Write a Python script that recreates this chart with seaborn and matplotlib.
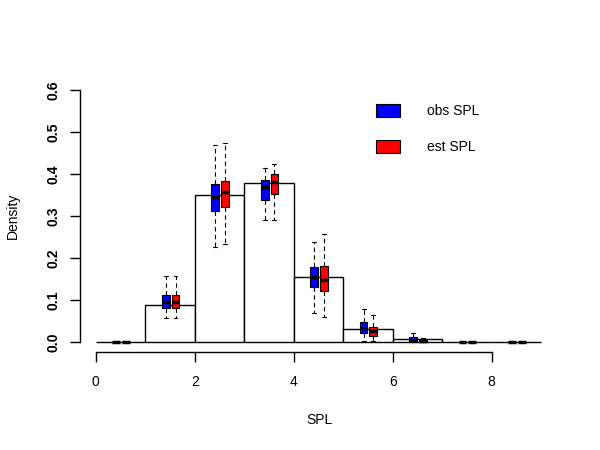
import numpy as np
import matplotlib
matplotlib.use("Agg")
import matplotlib.pyplot as plt
from matplotlib.patches import Patch
import seaborn as sns

# histogram of SPL (density per unit-width bin)
bin_edges = [0, 1, 2, 3, 4, 5, 6, 7, 8, 9]
bin_density = [0.0, 0.089, 0.349, 0.379, 0.155, 0.031, 0.006, 0.001, 0.0]

# box summaries per bin: whisker low, q1, median, q3, whisker high
obs_low = [0.0, 0.056, 0.225, 0.290, 0.070, 0.003, 0.0, 0.0, 0.0]
obs_q1 = [0.0, 0.080, 0.313, 0.338, 0.130, 0.021, 0.001, 0.0, 0.0]
obs_med = [0.0, 0.094, 0.346, 0.368, 0.154, 0.033, 0.005, 0.0, 0.0]
obs_q3 = [0.001, 0.112, 0.376, 0.386, 0.178, 0.048, 0.011, 0.001, 0.001]
obs_high = [0.001, 0.156, 0.469, 0.415, 0.239, 0.078, 0.021, 0.001, 0.001]

est_low = [0.0, 0.056, 0.233, 0.290, 0.059, 0.003, 0.0, 0.0, 0.0]
est_q1 = [0.0, 0.080, 0.322, 0.352, 0.121, 0.015, 0.0, 0.0, 0.0]
est_med = [0.0, 0.094, 0.356, 0.382, 0.148, 0.025, 0.003, 0.0, 0.0]
est_q3 = [0.001, 0.112, 0.384, 0.399, 0.181, 0.035, 0.007, 0.001, 0.001]
est_high = [0.001, 0.156, 0.475, 0.424, 0.257, 0.064, 0.010, 0.001, 0.001]

sns.set_style("ticks")
plt.rcParams["font.family"] = ["Liberation Sans", "DejaVu Sans"]
plt.rcParams["text.color"] = "black"
plt.rcParams["axes.labelcolor"] = "black"
plt.rcParams["xtick.color"] = "black"
plt.rcParams["ytick.color"] = "black"

fig = plt.figure(figsize=(6, 4.5), dpi=100)
ax = fig.add_axes([80 / 600, 1 - 352 / 450, 478 / 600, 272 / 450])

mids = [(a + b) / 2 for a, b in zip(bin_edges[:-1], bin_edges[1:])]
sns.histplot(x=mids, weights=bin_density, bins=bin_edges, stat="count",
             color="white", edgecolor="black", linewidth=1, alpha=1, ax=ax)


def make_stats(low, q1, med, q3, high):
    return [dict(whislo=a, q1=b, med=c, q3=d, whishi=e, fliers=[])
            for a, b, c, d, e in zip(low, q1, med, q3, high)]


for stats, col, off in [(make_stats(obs_low, obs_q1, obs_med, obs_q3, obs_high), "blue", -0.09),
                        (make_stats(est_low, est_q1, est_med, est_q3, est_high), "red", 0.11)]:
    ax.bxp(stats, positions=[m + off for m in mids], widths=0.16, capwidths=0.08,
           patch_artist=True, showfliers=False, manage_ticks=False,
           boxprops=dict(facecolor=col, edgecolor="black", linewidth=0.8),
           medianprops=dict(color="black", linewidth=2.5, solid_capstyle="butt"),
           whiskerprops=dict(color="black", linewidth=0.8, linestyle=(0, (4, 3))),
           capprops=dict(color="black", linewidth=0.8))

ax.set_xlim(-0.32, 9.34)
ax.set_ylim(-0.024, 0.624)
ax.set_xticks([0, 2, 4, 6, 8])
ax.set_yticks([0.0, 0.1, 0.2, 0.3, 0.4, 0.5, 0.6])
ax.set_yticklabels(["0.0", "0.1", "0.2", "0.3", "0.4", "0.5", "0.6"],
                   rotation=90, va="center", fontweight="bold")
ax.tick_params(axis="both", labelsize=10, length=7, width=1, color="black")
ax.tick_params(axis="x", pad=9.5)
ax.tick_params(axis="y", pad=7)

sns.despine(ax=ax)
ax.spines["left"].set_bounds(0, 0.6)
ax.spines["bottom"].set_bounds(0, 8)
for s in ["left", "bottom"]:
    ax.spines[s].set_linewidth(1)
    ax.spines[s].set_color("black")

ax.set_xlabel("SPL", fontsize=10)
ax.set_ylabel("Density", fontsize=10)
ax.xaxis.set_label_coords(0.5, -0.224)
ax.yaxis.set_label_coords(-0.1255, 0.5)

handles = [Patch(facecolor="blue", edgecolor="black", linewidth=0.8),
           Patch(facecolor="red", edgecolor="black", linewidth=0.8)]
fig.legend(handles, ["obs SPL", "est SPL"], loc="upper left",
           bbox_to_anchor=(376 / 600, 1 - 104 / 450), frameon=False,
           fontsize=10, handlelength=1.75, handleheight=1.1,
           labelspacing=1.55, handletextpad=1.9, borderpad=0, borderaxespad=0)

fig.savefig("out.png", dpi=100)
